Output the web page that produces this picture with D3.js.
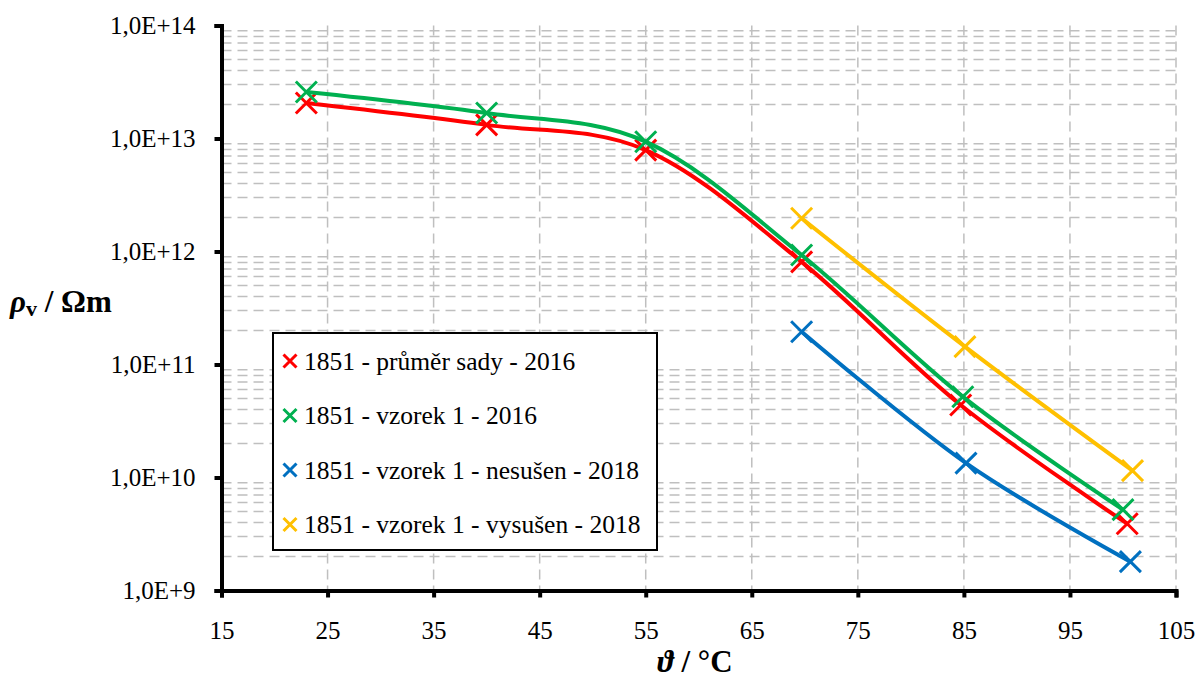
<!DOCTYPE html>
<html>
<head>
<meta charset="utf-8">
<title></title>
<script src="https://cdnjs.cloudflare.com/ajax/libs/d3/7.8.5/d3.min.js"></script>
<style>
body { margin: 0; background: #fff; }
</style>
</head>
<body>
<div id="chart"></div>
<script>
    // data
    var seriesNames = ['1851 - průměr sady - 2016', '1851 - vzorek 1 - 2016',
                       '1851 - vzorek 1 - nesušen - 2018', '1851 - vzorek 1 - vysušen - 2018'];
    var seriesColors = ['#ff0000', '#00b050', '#0070c0', '#ffc000'];

    var redTemp = [23, 40, 55, 69.7, 84.7, 100.4];
    var redRho = [2.06e13, 1.32e13, 7.9e12, 8.1e11, 4.38e10, 3.9e9];
    var greenTemp = [23, 40, 55, 69.7, 84.9, 100.0];
    var greenRho = [2.58e13, 1.68e13, 9.37e12, 9.3e11, 5.19e10, 5.2e9];
    var blueTemp = [69.7, 85.2, 100.7];
    var blueRho = [1.95e11, 1.34e10, 1.8e9];
    var yellowTemp = [69.7, 85.1, 100.9];
    var yellowRho = [1.97e12, 1.44e11, 1.15e10];

    var xTicks = [15, 25, 35, 45, 55, 65, 75, 85, 95, 105];
    var yTicks = [1e9, 1e10, 1e11, 1e12, 1e13, 1e14];

    var temps = [redTemp, greenTemp, blueTemp, yellowTemp];
    var rhos = [redRho, greenRho, blueRho, yellowRho];

    var font = '"Liberation Serif", "Times New Roman", Times, serif';
    var w = 1198, h = 678;
    var margin = {top: 25.5, right: 22, bottom: 87.5, left: 221.5};

    var svg = d3.select('#chart').append('svg')
                .attr('width', w)
                .attr('height', h)
                .style('font-family', font);

    var xScale = d3.scaleLinear()
                   .domain([15, 105])
                   .range([margin.left, w - margin.right]);

    var yScale = d3.scaleLog()
                   .domain([1e9, 1e14])
                   .range([h - margin.bottom, margin.top]);

    // minor gridlines 2..9 per decade
    var minor = [];
    for (var e = 9; e < 14; e++) {
        for (var m = 2; m <= 9; m++) minor.push(m * Math.pow(10, e));
    }

    var grid = svg.append('g')
                  .attr('stroke', '#bfbfbf')
                  .attr('stroke-width', 1.5)
                  .attr('stroke-dasharray', '10,6');

    grid.selectAll('.hgrid').data(minor).enter()
        .append('line')
        .attr('x1', xScale(15)).attr('x2', xScale(105))
        .attr('y1', (d) => yScale(d)).attr('y2', (d) => yScale(d));

    grid.selectAll('.vgrid').data(xTicks.slice(1)).enter()
        .append('line')
        .attr('x1', (d) => xScale(d)).attr('x2', (d) => xScale(d))
        .attr('y1', yScale(1e14)).attr('y2', yScale(1e9));

    // axes
    var xAxis = svg.append('g')
       .attr('transform', 'translate(0,' + yScale(1e9) + ')')
       .call(d3.axisBottom(xScale).tickValues(xTicks).tickSize(7).tickPadding(24));

    var yAxis = svg.append('g')
       .attr('transform', 'translate(' + xScale(15) + ',0)')
       .call(d3.axisLeft(yScale).tickValues(yTicks).tickSize(7).tickPadding(19)
               .tickFormat((d) => '1,0E+' + Math.round(Math.log10(d))));

    [xAxis, yAxis].forEach(function (ax) {
        ax.attr('font-family', null).attr('font-size', null);
        ax.select('.domain').attr('stroke', '#000').attr('stroke-width', 4);
        ax.selectAll('.tick line').attr('stroke', '#000').attr('stroke-width', 4);
        ax.selectAll('.tick text')
          .attr('fill', '#000')
          .style('font-family', font)
          .style('font-size', '25px');
    });

    // legend box (drawn under the series)
    var legend = svg.append('g');
    legend.append('rect')
          .attr('x', 273).attr('y', 333)
          .attr('width', 384).attr('height', 217)
          .attr('fill', '#fff')
          .attr('stroke', '#000')
          .attr('stroke-width', 2);

    seriesNames.forEach(function (name, i) {
        var cy = 361 + i * 54.5;
        var s = 6.5;
        legend.append('path')
              .attr('d', 'M' + (290 - s) + ',' + (cy - s) + 'L' + (290 + s) + ',' + (cy + s) +
                         'M' + (290 - s) + ',' + (cy + s) + 'L' + (290 + s) + ',' + (cy - s))
              .attr('stroke', seriesColors[i])
              .attr('stroke-width', 3)
              .attr('fill', 'none');
        legend.append('text')
              .attr('x', 304)
              .attr('y', cy + 8.5)
              .style('font-size', '25.5px')
              .attr('fill', '#000')
              .text(name);
    });

    // series
    var line = d3.line()
                 .x((d) => xScale(d[0]))
                 .y((d) => yScale(d[1]))
                 .curve(d3.curveCardinal.tension(0));

    temps.forEach(function (tt, i) {
        var pts = tt.map((t, j) => [t, rhos[i][j]]);
        var g = svg.append('g');
        g.append('path')
         .attr('d', line(pts))
         .attr('stroke', seriesColors[i])
         .attr('stroke-width', 4)
         .attr('fill', 'none');
        var s = 10.5;
        g.selectAll('.mark').data(pts).enter()
         .append('path')
         .attr('d', function (d) {
             var px = xScale(d[0]), py = yScale(d[1]);
             return 'M' + (px - s) + ',' + (py - s) + 'L' + (px + s) + ',' + (py + s) +
                    'M' + (px - s) + ',' + (py + s) + 'L' + (px + s) + ',' + (py - s);
         })
         .attr('stroke', seriesColors[i])
         .attr('stroke-width', 3)
         .attr('fill', 'none');
    });

    // axis titles
    var yt = svg.append('text')
                .attr('x', 10).attr('y', 312)
                .style('font-size', '31px')
                .attr('font-weight', 'bold')
                .attr('fill', '#000');
    yt.append('tspan').attr('font-style', 'italic').text('ρ');
    yt.append('tspan').style('font-size', '22px').attr('dy', 4).text('v');
    yt.append('tspan').attr('dy', -4).text(' / Ωm');

    var xt = svg.append('text')
                .attr('x', 695).attr('y', 672)
                .attr('text-anchor', 'middle')
                .style('font-size', '31px')
                .attr('font-weight', 'bold')
                .attr('fill', '#000');
    xt.append('tspan').attr('font-style', 'italic').text('ϑ');
    xt.append('tspan').text(' / °C');
</script>
</body>
</html>
